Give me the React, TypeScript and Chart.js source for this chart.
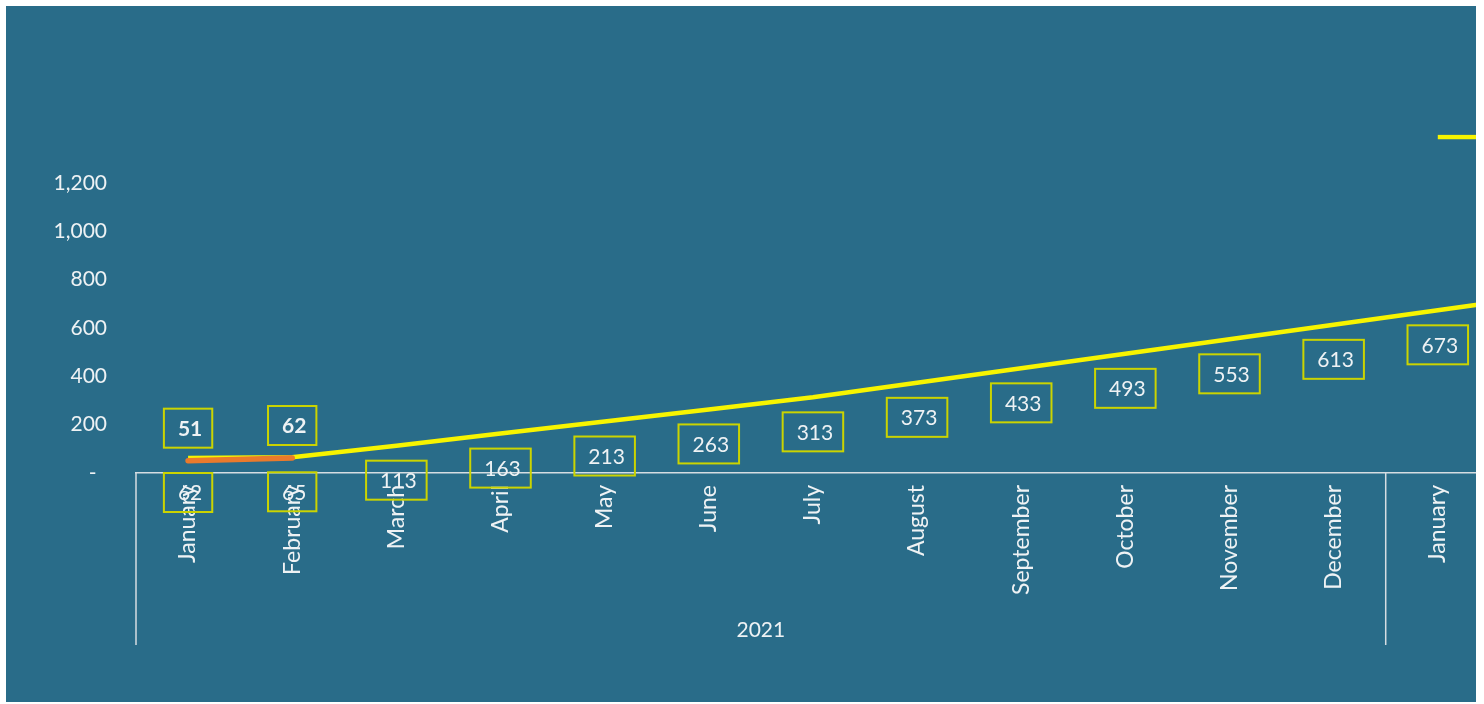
import React, { useEffect, useRef } from "react";
import { Chart, registerables } from "chart.js";

Chart.register(...registerables);

const months = [
  "January", "February", "March", "April", "May", "June", "July",
  "August", "September", "October", "November", "December", "January", "February",
];
const yearGroups = [
  { label: "2021", from: 0, to: 11 },
  { label: "2022", from: 12, to: 23 },
];
const actualValues = [51, 62, null, null, null, null, null, null, null, null, null, null, null, null];
const forecastValues = [62, 65, 113, 163, 213, 263, 313, 373, 433, 493, 553, 613, 673, 733];
const targetValues = [null, null, null, null, null, null, null, null, null, null, null, null, 1390, 1390];
const yTicks = [0, 200, 400, 600, 800, 1000, 1200];

const BG = "#296c89";
const FONT = "Lato, 'Open Sans', sans-serif";
const AXIS_COLOR = "#d6dde2";
const TEXT_COLOR = "#eef2f4";
const BOX_COLOR = "#cbd400";

const labelPlugin = {
  id: "boxLabels",
  afterDatasetsDraw(chart: any) {
    const ctx = chart.ctx;
    chart.data.datasets.forEach((ds: any, i: number) => {
      if (!ds.boxLabel) return;
      const meta = chart.getDatasetMeta(i);
      meta.data.forEach((pt: any, j: number) => {
        const v = ds.data[j];
        if (v === null || v === undefined) return;
        const text = String(v);
        ctx.save();
        ctx.font = `${ds.boxLabel.bold ? "bold " : ""}21px ${FONT}`;
        const tw = ctx.measureText(text).width;
        const w = tw + 24;
        const h = 39;
        const cx = pt.x;
        const cy = ds.boxLabel.pos === "above" ? pt.y - 32.5 : pt.y + 34.5;
        ctx.strokeStyle = BOX_COLOR;
        ctx.lineWidth = 2;
        ctx.strokeRect(cx - w / 2, cy - h / 2, w, h);
        ctx.fillStyle = TEXT_COLOR;
        ctx.textAlign = "center";
        ctx.textBaseline = "middle";
        ctx.fillText(text, cx + 2, cy + 1);
        ctx.restore();
      });
    });
  },
};

const groupPlugin = {
  id: "groupAxis",
  afterDraw(chart: any) {
    const ctx = chart.ctx;
    const xs = chart.scales.x;
    const step = xs.getPixelForValue(1) - xs.getPixelForValue(0);
    const top = chart.chartArea.bottom;
    const bottom = 639;
    ctx.save();
    ctx.strokeStyle = AXIS_COLOR;
    ctx.lineWidth = 1.5;
    const bounds = new Set<number>();
    yearGroups.forEach((g) => {
      bounds.add(g.from);
      bounds.add(g.to + 1);
    });
    bounds.forEach((b) => {
      const x = xs.getPixelForValue(0) + (b - 0.5) * step;
      ctx.beginPath();
      ctx.moveTo(x, top);
      ctx.lineTo(x, bottom);
      ctx.stroke();
    });
    ctx.fillStyle = TEXT_COLOR;
    ctx.font = `21px ${FONT}`;
    ctx.textAlign = "center";
    ctx.textBaseline = "middle";
    yearGroups.forEach((g) => {
      const x0 = xs.getPixelForValue(0) + (g.from - 0.5) * step;
      const x1 = xs.getPixelForValue(0) + (g.to + 0.5) * step;
      ctx.fillText(g.label, (x0 + x1) / 2, 624);
    });
    ctx.restore();
  },
};

export default function App() {
  const ref = useRef<HTMLCanvasElement>(null);
  useEffect(() => {
    if (!ref.current) return;
    const chart = new Chart(ref.current, {
      type: "line",
      data: {
        labels: months,
        datasets: [
          {
            label: "Actual",
            data: actualValues,
            borderColor: "#ea7a2c",
            borderWidth: 5.5,
            pointRadius: 0,
            borderCapStyle: "round",
            boxLabel: { pos: "above", bold: true },
          } as any,
          {
            label: "Forecast",
            data: forecastValues,
            borderColor: "#f7f400",
            borderWidth: 4.5,
            pointRadius: 0,
            boxLabel: { pos: "below", bold: false },
          } as any,
          {
            label: "Target",
            data: targetValues,
            borderColor: "#f7f400",
            borderWidth: 4.5,
            pointRadius: 0,
          } as any,
        ],
      },
      options: {
        responsive: false,
        animation: false,
        layout: { padding: { top: 128.6, left: 0, right: 0, bottom: 0 } },
        plugins: { legend: { display: false }, tooltip: { enabled: false } },
        scales: {
          x: {
            offset: true,
            grid: { display: false, drawTicks: false },
            border: { display: true, color: AXIS_COLOR, width: 1.5 },
            ticks: {
              autoSkip: false,
              maxRotation: 90,
              minRotation: 90,
              padding: 12,
              color: TEXT_COLOR,
              font: { family: FONT, size: 23 },
            },
            afterFit(scale: any) {
              scale.height = 229;
            },
          },
          y: {
            min: 0,
            max: 1400,
            grid: { display: false, drawTicks: false },
            border: { display: false },
            afterBuildTicks(scale: any) {
              scale.ticks = yTicks.map((v) => ({ value: v }));
            },
            ticks: {
              padding: 29,
              color: TEXT_COLOR,
              font: { family: FONT, size: 21 },
              callback: (v: any) => (Number(v) === 0 ? "-\u2002" : Number(v).toLocaleString("en-US")),
            },
            afterFit(scale: any) {
              scale.width = 130;
            },
          },
        },
      },
      plugins: [labelPlugin, groupPlugin],
    });
    return () => chart.destroy();
  }, []);
  return (
    <div
      style={{
        position: "absolute",
        left: 6,
        top: 6,
        width: 1470,
        height: 696,
        overflow: "hidden",
        background: BG,
      }}
    >
      <canvas ref={ref} width={1588} height={696} style={{ display: "block", width: 1588, height: 696 }} />
    </div>
  );
}
